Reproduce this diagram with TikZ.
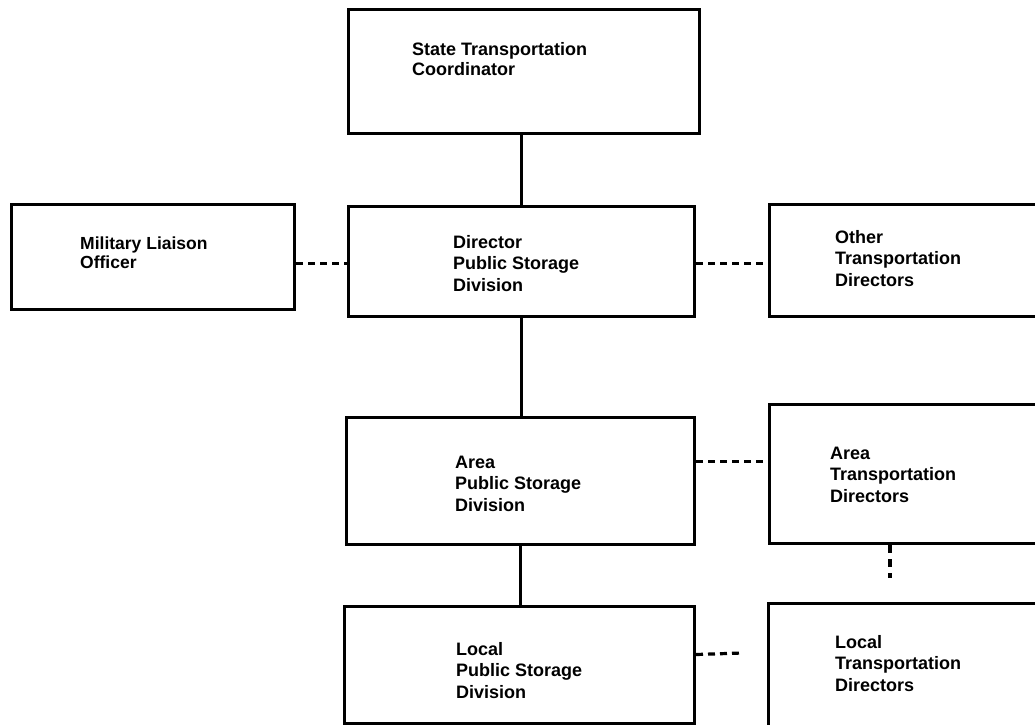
\documentclass[tikz,border=0pt]{standalone}
\usepackage{fontspec}
\setmainfont{Liberation Sans}
\begin{document}
\begin{tikzpicture}[x=1pt,y=-1pt,
  box/.style={draw,line width=3pt,inner sep=0pt,anchor=north west},
  txt/.style={anchor=base west,align=left,inner sep=0pt,font=\bfseries\fontsize{18}{21.5}\selectfont},
  stxt/.style={anchor=base west,align=left,inner sep=0pt,font=\bfseries\fontsize{17.5}{18.5}\selectfont},
  solidline/.style={line width=2.2pt},
  dashline/.style={line width=3.2pt,dash pattern=on 7pt off 5pt}]
\useasboundingbox (0,0) rectangle (1035,724);
\clip (0,0) rectangle (1035,724);
% boxes
\node[box,minimum width=351pt,minimum height=124pt] (coord) at (347,8) {};
\node[box,minimum width=346pt,minimum height=110pt] (dir) at (347,205) {};
\node[box,minimum width=283pt,minimum height=105pt] (mil) at (10,203) {};
\node[box,minimum width=350pt,minimum height=112pt] (other) at (768,203) {};
\node[box,minimum width=348pt,minimum height=127pt] (area) at (345,416) {};
\node[box,minimum width=350pt,minimum height=139pt] (areatd) at (768,403) {};
\node[box,minimum width=350pt,minimum height=117pt] (local) at (343,605) {};
\node[box,minimum width=350pt,minimum height=200pt] (localtd) at (767,602) {};
% texts (anchored at the baseline of the last line)
\node[txt,font=\bfseries\fontsize{18}{20}\selectfont] (tcoord) at (412,75) {State Transportation\\Coordinator};
\node[txt] (tdir) at (453,291) {Director\\Public Storage\\Division};
\node[stxt] (tmil) at (80,268) {Military Liaison\\Officer};
\node[txt] (tother) at (835,286) {Other\\Transportation\\Directors};
\node[txt] (tarea) at (455,511) {Area\\Public Storage\\Division};
\node[txt] (tareatd) at (830,502) {Area\\Transportation\\Directors};
\node[txt] (tlocal) at (456,698) {Local\\Public Storage\\Division};
\node[txt] (tlocaltd) at (835,691) {Local\\Transportation\\Directors};
% solid connectors
\draw[solidline] (dir.north |- coord.south) -- (dir.north);
\draw[solidline] (dir.south) -- (dir.south |- area.north);
\draw[solidline] (area.south) -- (area.south |- local.north);
% dashed connectors
\coordinate (m1) at ([yshift=-6.5pt]mil.east);
\draw[dashline] (m1) -- (m1 -| dir.west);
\coordinate (d1) at ([yshift=-2pt]dir.east);
\draw[dashline] (d1) -- (d1 -| other.west);
\coordinate (a1) at ([yshift=19.5pt]area.east);
\draw[dashline] (a1) -- (a1 -| areatd.west);
\coordinate (l1) at ([yshift=10.5pt]local.east);
\coordinate (l2) at (742,653);
\draw[dashline] (l1) -- (l2);
\coordinate (v1) at ([xshift=122pt]areatd.south west);
\coordinate (v2) at (890,578);
\draw[line width=3.2pt,dash pattern=on 8pt off 6pt] (v1) -- (v2);
\end{tikzpicture}
\end{document}
